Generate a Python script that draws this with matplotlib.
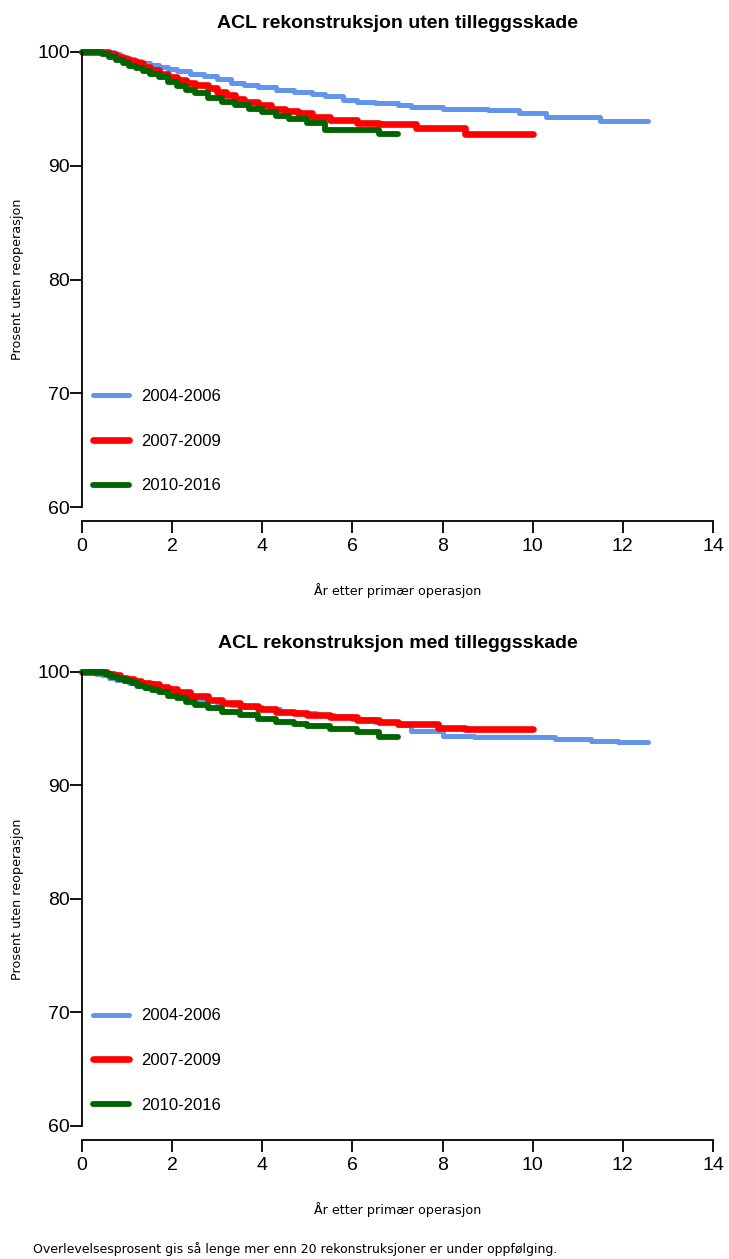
import matplotlib
matplotlib.use('Agg')
import matplotlib.pyplot as plt

plt.rcParams['font.family'] = ['Liberation Sans', 'DejaVu Sans']

periods = ['2004-2006', '2007-2009', '2010-2016']
colors = ['#6495ED', '#FF0000', '#006400']
widths = [3.6, 4.8, 4.2]

# uten tilleggsskade
t_uten_0406 = [0, 0.7, 0.85, 1.0, 1.15, 1.3, 1.5, 1.7, 1.9, 2.1, 2.4, 2.7, 3.0, 3.3, 3.6, 3.9, 4.3, 4.7, 5.1, 5.4, 5.8, 6.1, 6.5, 7.0, 7.3, 8.0, 9.0, 9.7, 10.3, 11.5, 12.55]
s_uten_0406 = [100, 99.8, 99.6, 99.4, 99.2, 99.0, 98.9, 98.7, 98.5, 98.3, 98.1, 97.9, 97.6, 97.3, 97.1, 96.9, 96.7, 96.5, 96.3, 96.1, 95.8, 95.6, 95.5, 95.3, 95.2, 95.0, 94.9, 94.6, 94.3, 93.9, 93.9]
t_uten_0709 = [0, 0.6, 0.75, 0.9, 1.05, 1.2, 1.35, 1.5, 1.7, 1.9, 2.1, 2.3, 2.5, 2.8, 3.0, 3.2, 3.4, 3.6, 3.9, 4.2, 4.5, 4.8, 5.1, 5.5, 6.1, 6.6, 7.4, 8.5, 10.0]
s_uten_0709 = [100, 99.8, 99.6, 99.4, 99.2, 99.0, 98.7, 98.4, 98.1, 97.8, 97.5, 97.3, 97.1, 96.8, 96.5, 96.2, 95.9, 95.6, 95.3, 95.0, 94.8, 94.6, 94.3, 94.0, 93.75, 93.7, 93.3, 92.8, 92.8]
t_uten_1016 = [0, 0.45, 0.6, 0.75, 0.9, 1.05, 1.2, 1.35, 1.5, 1.7, 1.9, 2.1, 2.3, 2.5, 2.8, 3.1, 3.4, 3.7, 4.0, 4.3, 4.6, 5.0, 5.4, 6.6, 7.0]
s_uten_1016 = [100, 99.8, 99.6, 99.3, 99.0, 98.8, 98.6, 98.3, 98.1, 97.8, 97.4, 97.0, 96.7, 96.4, 95.95, 95.6, 95.3, 95.0, 94.7, 94.4, 94.1, 93.75, 93.1, 92.8, 92.8]

# med tilleggsskade
t_med_0406 = [0, 0.3, 0.45, 0.6, 0.75, 0.9, 1.05, 1.2, 1.4, 1.6, 1.8, 2.0, 2.3, 2.6, 3.0, 3.3, 3.6, 4.0, 4.4, 4.8, 5.2, 5.6, 6.0, 6.5, 7.0, 7.3, 8.0, 8.7, 10.5, 11.3, 11.9, 12.55]
s_med_0406 = [100, 99.8, 99.7, 99.5, 99.3, 99.2, 99.0, 98.8, 98.6, 98.4, 98.2, 98.0, 97.8, 97.5, 97.3, 97.1, 96.9, 96.7, 96.5, 96.4, 96.2, 96.1, 95.9, 95.6, 95.3, 94.8, 94.4, 94.3, 94.1, 93.9, 93.8, 93.8]
t_med_0709 = [0, 0.55, 0.7, 0.85, 1.0, 1.15, 1.3, 1.5, 1.7, 1.9, 2.1, 2.4, 2.8, 3.1, 3.5, 3.9, 4.3, 4.7, 5.0, 5.5, 6.1, 6.6, 7.0, 7.9, 8.5, 10.0]
s_med_0709 = [100, 99.8, 99.7, 99.5, 99.4, 99.2, 99.0, 98.9, 98.7, 98.5, 98.2, 97.9, 97.5, 97.3, 97.0, 96.7, 96.5, 96.4, 96.2, 96.0, 95.8, 95.6, 95.4, 95.1, 95.0, 95.0]
t_med_1016 = [0, 0.5, 0.65, 0.8, 0.95, 1.1, 1.25, 1.4, 1.55, 1.7, 1.9, 2.1, 2.3, 2.5, 2.8, 3.1, 3.5, 3.9, 4.3, 4.7, 5.0, 5.5, 6.1, 6.6, 7.0]
s_med_1016 = [100, 99.8, 99.6, 99.4, 99.2, 99.0, 98.8, 98.6, 98.4, 98.2, 97.9, 97.7, 97.4, 97.1, 96.8, 96.5, 96.2, 95.9, 95.6, 95.4, 95.2, 95.0, 94.7, 94.3, 94.3]

panels = [
    ('ACL rekonstruksjon uten tilleggsskade',
     [(t_uten_0406, s_uten_0406), (t_uten_0709, s_uten_0709), (t_uten_1016, s_uten_1016)]),
    ('ACL rekonstruksjon med tilleggsskade',
     [(t_med_0406, s_med_0406), (t_med_0709, s_med_0709), (t_med_1016, s_med_1016)]),
]

W, H = 729, 1259
fig = plt.figure(figsize=(W / 100, H / 100), dpi=100)

# pixel layout: x 0 -> 82, 14 -> 713 ; y 100 / 60
rows = [(52, 507), (672, 1126)]
small = ['DejaVu Sans']

for (title, curves), (ytop, ybot) in zip(panels, rows):
    ax = fig.add_axes([82 / W, 1 - ybot / H, (713 - 82) / W, (ybot - ytop) / H])
    for (t, s), lab, c, lw in zip(curves, periods, colors, widths):
        ax.plot(t, s, drawstyle='steps-post', color=c, lw=lw, label=lab,
                solid_capstyle='round', clip_on=False)
    ax.set_xlim(0, 14)
    ax.set_ylim(60, 100)
    ax.set_xticks(range(0, 15, 2))
    ax.set_yticks([60, 70, 80, 90, 100])
    for side in ('top', 'right'):
        ax.spines[side].set_visible(False)
    ax.spines['bottom'].set_position(('outward', 10))
    ax.spines['bottom'].set_bounds(0, 14)
    ax.spines['left'].set_bounds(60, 100)
    for sp in ('bottom', 'left'):
        ax.spines[sp].set_linewidth(1.3)
    ax.tick_params(axis='both', length=8.5, width=1.3, labelsize=14)
    ax.tick_params(axis='y', pad=0)
    ax.tick_params(axis='x', pad=4)
    ax.set_title(title, fontsize=14, fontweight='bold', pad=17)
    ax.set_xlabel('År etter primær operasjon', fontsize=9.2, family=small, labelpad=20)
    ax.set_ylabel('Prosent uten reoperasjon', fontsize=9.2, family=small, labelpad=10)
    ax.legend(loc='upper left', bbox_to_anchor=(0.017, 0.259), frameon=False,
              fontsize=12, handlelength=2.2, handletextpad=0.7,
              labelspacing=1.78, borderpad=0, borderaxespad=0)

fig.text(33 / W, 1 - 1249 / H,
         'Overlevelsesprosent gis så lenge mer enn 20 rekonstruksjoner er under oppfølging.',
         fontsize=9, family=small, va='center', ha='left')

fig.savefig('out.png', dpi=100)
